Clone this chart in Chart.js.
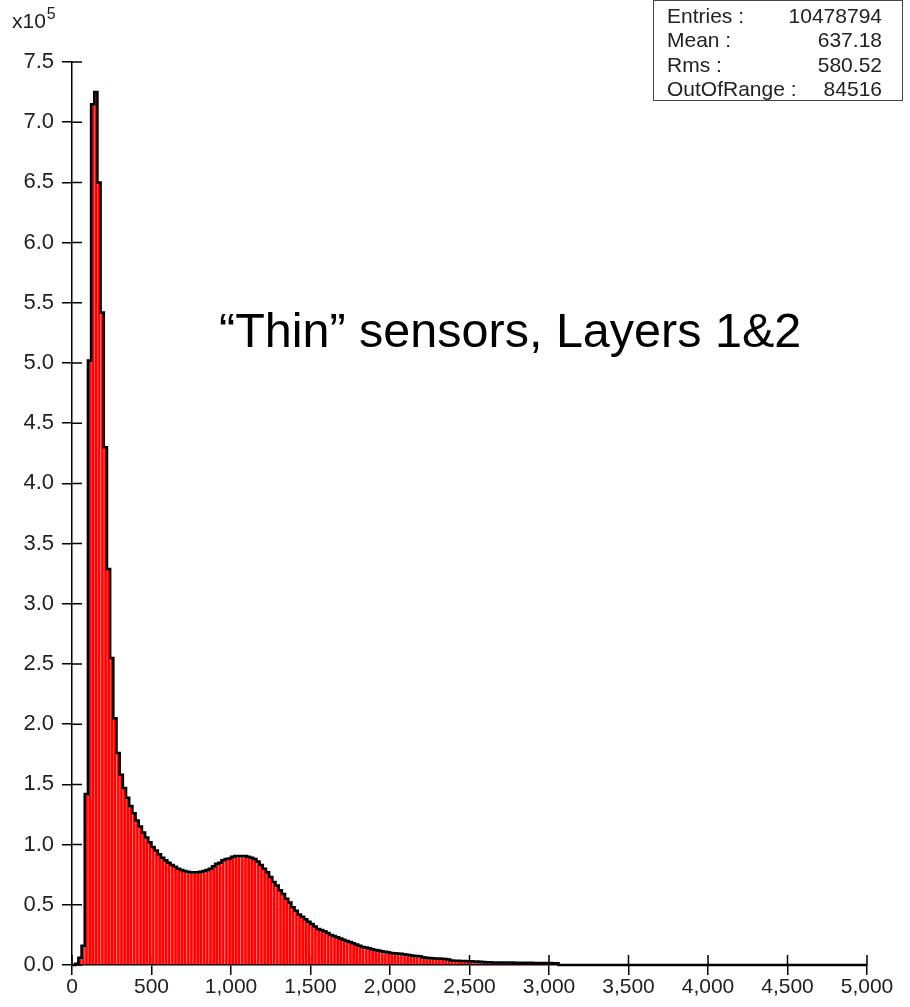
<!DOCTYPE html>
<html>
<head>
<meta charset="utf-8">
<script src="https://cdn.jsdelivr.net/npm/chart.js@4.4.1/dist/chart.umd.min.js"></script>
<style>
  body { margin: 0; background: #fff; }
  #wrap { position: relative; width: 910px; height: 1007px; font-family: "Liberation Sans", Arial, sans-serif; color: #222; }
  #wrap canvas { position: absolute; left: 0; top: 0; }
  .scale { position: absolute; left: 12px; top: 10px; font-size: 21px; line-height: 21px; white-space: nowrap; }
  .scale sup { font-size: 16px; position: relative; top: -9px; vertical-align: baseline; margin-left: 1px; }
  .note { position: absolute; left: 219px; top: 306px; font-size: 48.5px; line-height: 48px; white-space: nowrap; color: #000; }
  .stats { position: absolute; left: 653px; top: 0; width: 250px; height: 101px; border: 1px solid #444; box-sizing: border-box; padding: 3px 20px 0 13px; font-size: 21px; line-height: 24.3px; }
  .stats div { display: flex; justify-content: space-between; }
</style>
</head>
<body>
<div id="wrap">
  <canvas id="hist" width="910" height="1007"></canvas>
  <div class="scale">x10<sup>5</sup></div>
  <div class="note">“Thin” sensors, Layers 1&amp;2</div>
  <div class="stats" id="stats"></div>
</div>
<script>
// histogram bins, 20 wide from 0 to 5000, heights in units of 10^5
const binWidth = 20;
const counts = [
  0, 0.01, 0.06, 0.16, 1.42, 5.02, 7.15, 7.25, 6.50, 5.42,
  4.30, 3.29, 2.55, 2.05, 1.76, 1.58, 1.47, 1.39, 1.32, 1.26,
  1.20, 1.15, 1.10, 1.06, 1.02, 0.98, 0.95, 0.92, 0.89, 0.87,
  0.85, 0.83, 0.815, 0.80, 0.79, 0.78, 0.775, 0.77, 0.77, 0.77,
  0.775, 0.78, 0.79, 0.80, 0.82, 0.84, 0.85, 0.87, 0.88, 0.885,
  0.90, 0.905, 0.905, 0.905, 0.905, 0.90, 0.89, 0.88, 0.86, 0.83,
  0.80, 0.77, 0.73, 0.69, 0.66, 0.62, 0.59, 0.55, 0.52, 0.48,
  0.45, 0.42, 0.40, 0.38, 0.36, 0.34, 0.32, 0.30, 0.29, 0.28,
  0.265, 0.25, 0.24, 0.23, 0.22, 0.21, 0.20, 0.19, 0.18, 0.17,
  0.16, 0.15, 0.145, 0.14, 0.13, 0.125, 0.12, 0.115, 0.11, 0.105,
  0.10, 0.097, 0.095, 0.093, 0.09, 0.085, 0.08, 0.077, 0.075, 0.072,
  0.065, 0.06, 0.058, 0.056, 0.055, 0.053, 0.052, 0.05, 0.045, 0.038,
  0.036, 0.035, 0.034, 0.033, 0.032, 0.031, 0.030, 0.030, 0.028, 0.025,
  0.022, 0.022, 0.021, 0.021, 0.021, 0.020, 0.020, 0.020, 0.020, 0.019,
  0.019, 0.019, 0.018, 0.018, 0.018, 0.017, 0.017, 0.017, 0.016, 0.016,
  0.016, 0.015, 0.015, 0, 0, 0, 0, 0, 0, 0,
  0, 0, 0, 0, 0, 0, 0, 0, 0, 0,
  0, 0, 0, 0, 0, 0, 0, 0, 0, 0,
  0, 0, 0, 0, 0, 0, 0, 0, 0, 0,
  0, 0, 0, 0, 0, 0, 0, 0, 0, 0,
  0, 0, 0, 0, 0, 0, 0, 0, 0, 0,
  0, 0, 0, 0, 0, 0, 0, 0, 0, 0,
  0, 0, 0, 0, 0, 0, 0, 0, 0, 0,
  0, 0, 0, 0, 0, 0, 0, 0, 0, 0,
  0, 0, 0, 0, 0, 0, 0, 0, 0, 0
];
const xTicks = [0, 500, 1000, 1500, 2000, 2500, 3000, 3500, 4000, 4500, 5000];
const yTicks = [0, 0.5, 1, 1.5, 2, 2.5, 3, 3.5, 4, 4.5, 5, 5.5, 6, 6.5, 7, 7.5];
const statNames = ['Entries :', 'Mean :', 'Rms :', 'OutOfRange :'];
const statValues = ['10478794', '637.18', '580.52', '84516'];

const statsBox = document.getElementById('stats');
statNames.forEach((name, i) => {
  const row = document.createElement('div');
  row.innerHTML = '<span>' + name + '</span><span>' + statValues[i] + '</span>';
  statsBox.appendChild(row);
});

const bars = counts.map((v, i) => ({x: i * binWidth + binWidth / 2, y: v}));
const edges = counts.map((v, i) => ({x: i * binWidth, y: v}));
edges.push({x: counts.length * binWidth, y: counts[counts.length - 1]});

const fontFamily = '"Liberation Sans", Arial, sans-serif';

// tick marks cross the axes, so draw the inner half too
const innerTicks = {
  id: 'innerTicks',
  beforeDatasetsDraw(chart) {
    const {ctx, chartArea: a, scales: {x, y}} = chart;
    ctx.save();
    ctx.strokeStyle = '#000';
    ctx.lineWidth = 1.5;
    ctx.beginPath();
    xTicks.forEach(v => {
      const px = x.getPixelForValue(v);
      ctx.moveTo(px, a.bottom);
      ctx.lineTo(px, a.bottom - 10);
    });
    yTicks.forEach(v => {
      const py = y.getPixelForValue(v);
      ctx.moveTo(a.left, py);
      ctx.lineTo(a.left + 10, py);
    });
    ctx.stroke();
    ctx.restore();
  }
};

new Chart(document.getElementById('hist'), {
  type: 'bar',
  data: {
    datasets: [
      {
        type: 'line',
        data: edges,
        stepped: true,
        borderColor: '#000',
        borderWidth: 2.5,
        pointRadius: 0,
        fill: false,
        clip: 6,
        order: 0
      },
      {
        type: 'bar',
        data: bars,
        backgroundColor: '#ff0000',
        borderColor: '#ff5a5a',
        borderWidth: {left: 1, right: 0, top: 0, bottom: 0},
        barPercentage: 1,
        categoryPercentage: 1,
        order: 1
      }
    ]
  },
  options: {
    responsive: false,
    animation: false,
    events: [],
    layout: {padding: {top: 62, right: 43, left: 0, bottom: 0}},
    plugins: {legend: {display: false}, tooltip: {enabled: false}},
    scales: {
      x: {
        type: 'linear',
        min: 0,
        max: 5000,
        offset: false,
        afterBuildTicks: s => { s.ticks = xTicks.map(v => ({value: v})); },
        afterFit: s => { s.height = 42; },
        grid: {offset: false, drawOnChartArea: false, tickLength: 10, color: '#000', lineWidth: 1.5},
        border: {color: '#000', width: 1.5},
        ticks: {
          padding: 0,
          color: '#222',
          maxRotation: 0,
          autoSkip: false,
          font: {family: fontFamily, size: 21},
          callback: v => v.toLocaleString('en-US')
        }
      },
      y: {
        min: 0,
        max: 7.5,
        afterBuildTicks: s => { s.ticks = yTicks.map(v => ({value: v})); },
        afterFit: s => { s.width = 72; },
        grid: {drawOnChartArea: false, tickLength: 10, color: '#000', lineWidth: 1.5},
        border: {color: '#000', width: 1.5},
        ticks: {
          padding: 8,
          color: '#222',
          font: {family: fontFamily, size: 22},
          callback: v => v.toFixed(1)
        }
      }
    }
  },
  plugins: [innerTicks]
});
</script>
</body>
</html>
